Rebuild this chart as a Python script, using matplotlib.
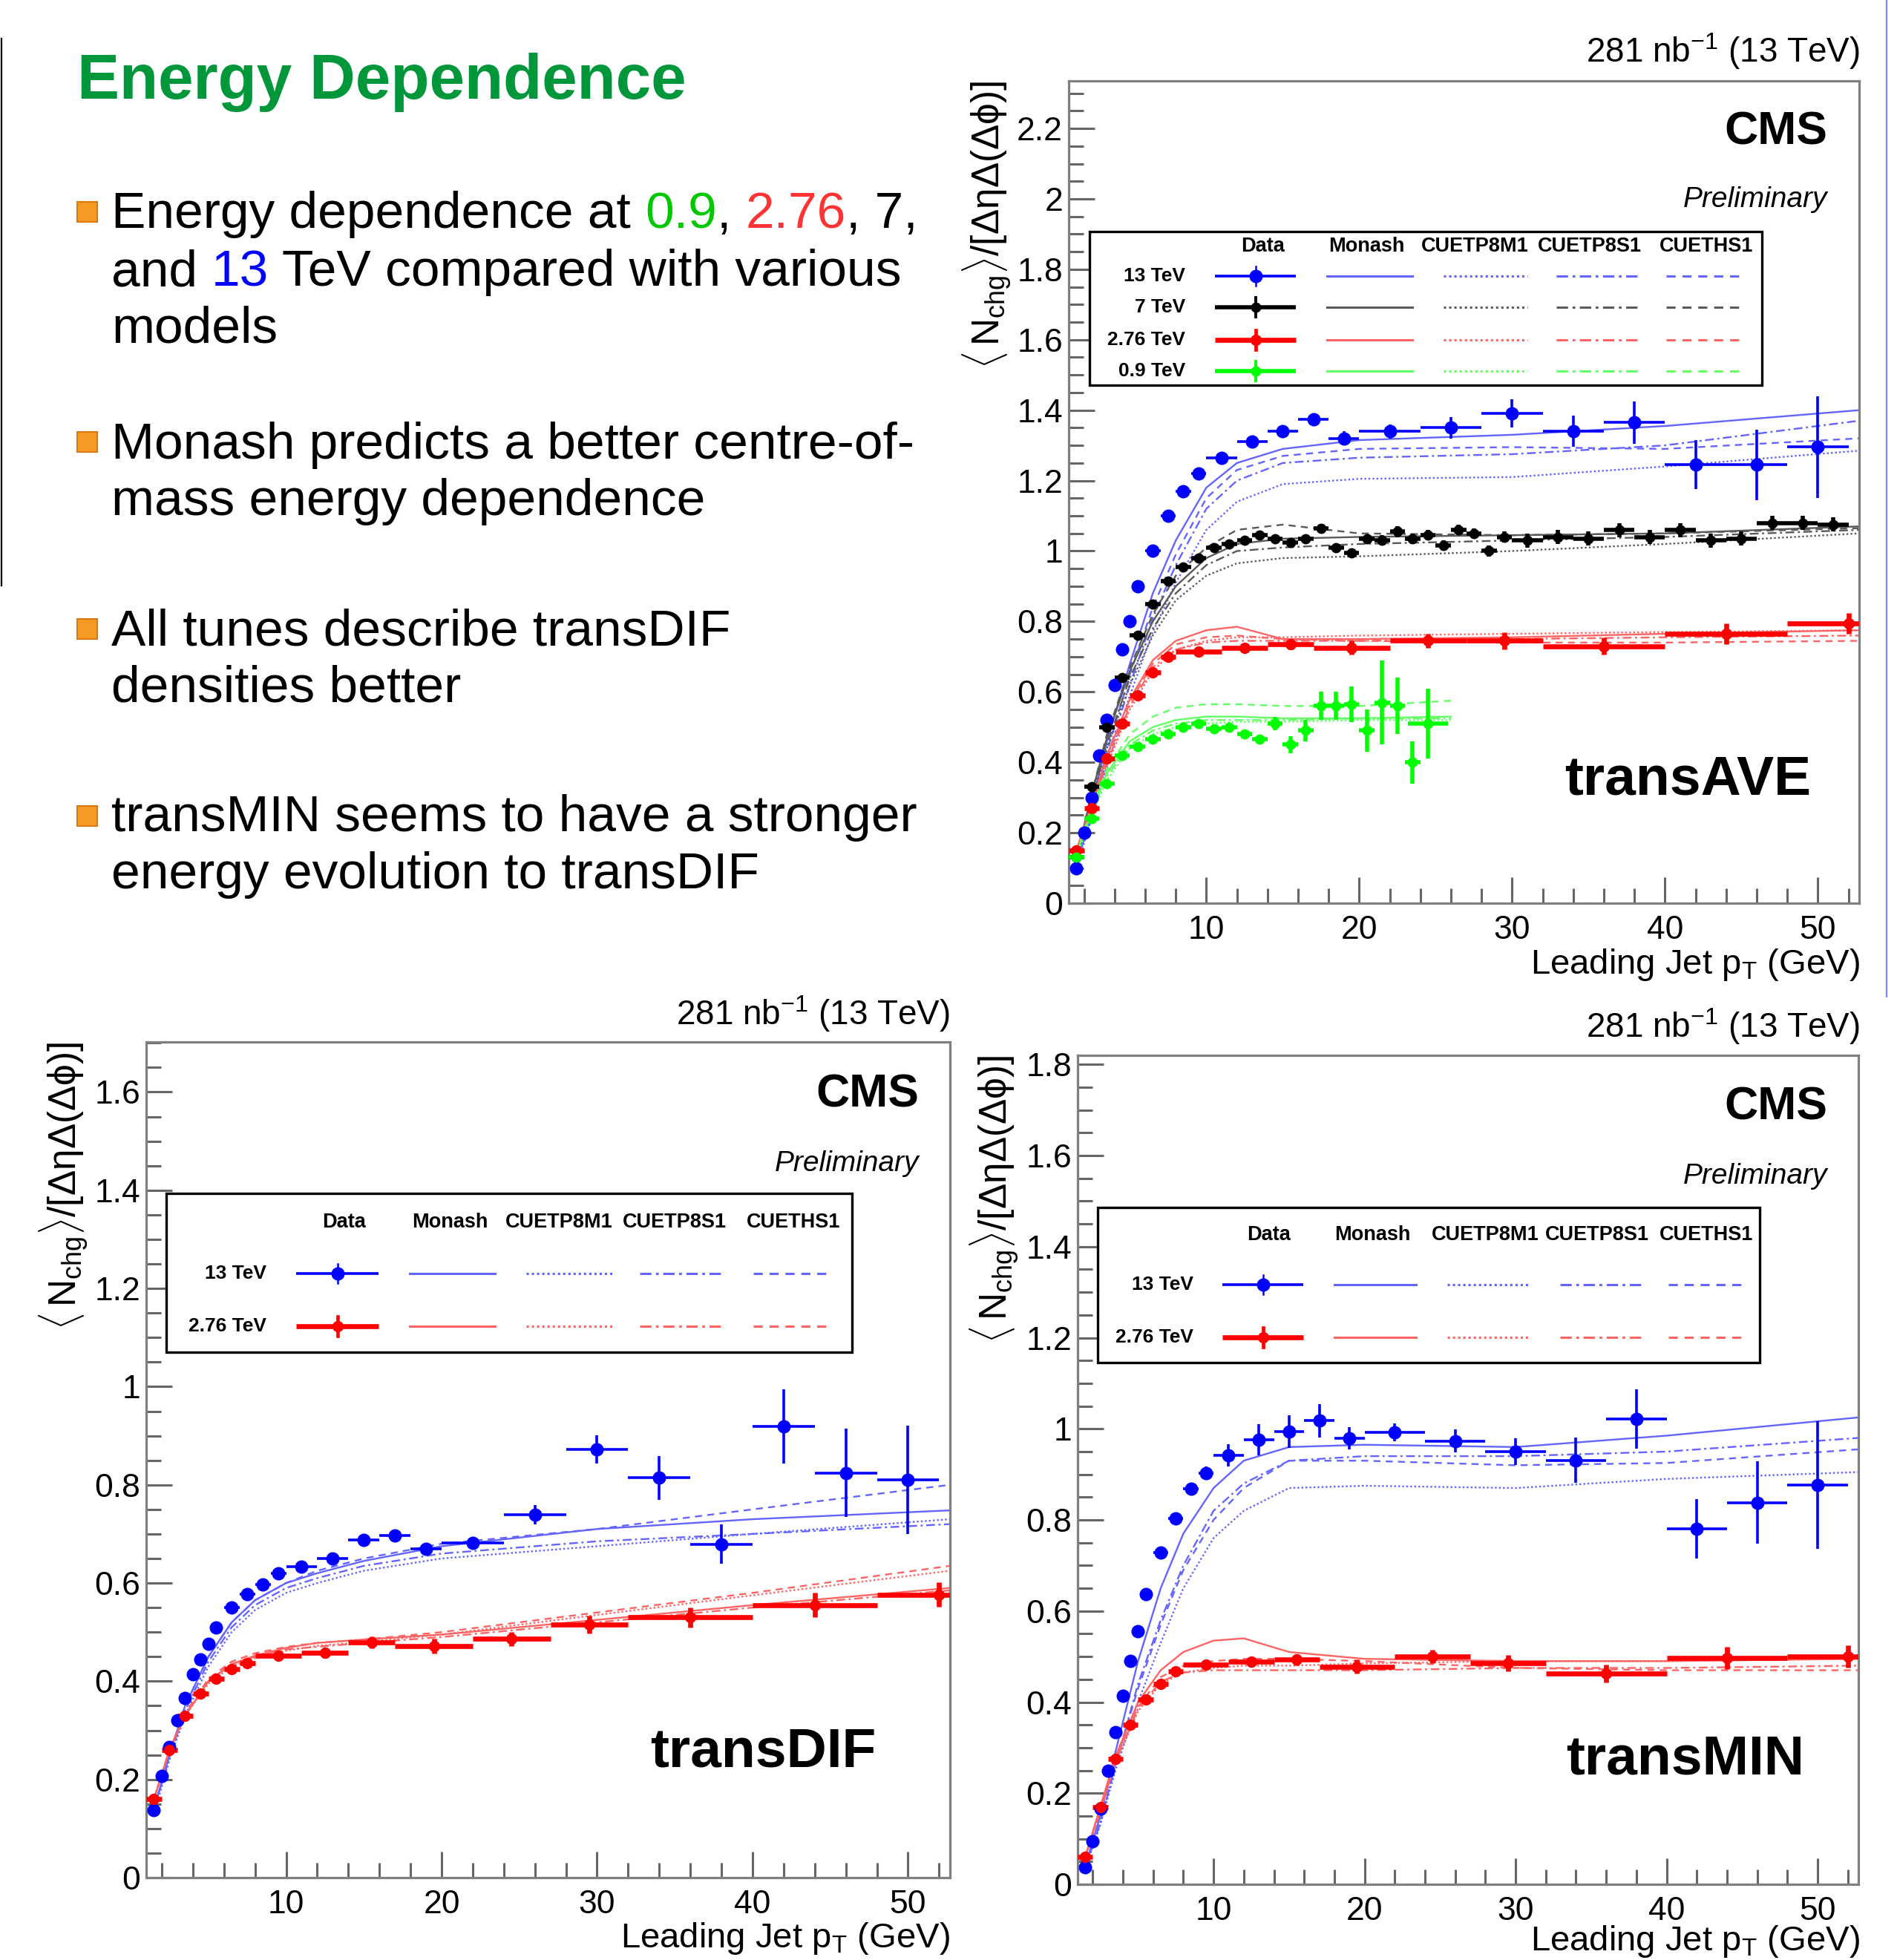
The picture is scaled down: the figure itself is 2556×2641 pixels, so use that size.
import matplotlib
matplotlib.use('Agg')
import matplotlib.pyplot as plt
from matplotlib.patches import Rectangle
from matplotlib.ticker import MultipleLocator, FuncFormatter

W, H = 2556, 2641

# ROOT plots use a helvetica-like font, the slide text Liberation Sans
ROOT_FONT = 'Liberation Sans'
SLIDE_FONT = 'Liberation Sans'
plt.rcParams['font.family'] = [ROOT_FONT, 'DejaVu Sans']
plt.rcParams['mathtext.fontset'] = 'custom'
plt.rcParams['mathtext.rm'] = ROOT_FONT
plt.rcParams['mathtext.it'] = ROOT_FONT + ':italic'
plt.rcParams['mathtext.bf'] = ROOT_FONT + ':bold'

# ---------------- data ----------------
tunes = ['Monash', 'CUETP8M1', 'CUETP8S1', 'CUETHS1']

# 13 TeV data bins
pt13 = [1.5, 2.0, 2.5, 3.0, 3.5, 4.0, 4.5, 5.0, 5.5, 6.5, 7.5, 8.5, 9.5,
        11, 13, 15, 17, 19, 22, 26, 30, 34, 38, 42, 46, 50]
pt13_err = [0.25, 0.25, 0.25, 0.25, 0.25, 0.25, 0.25, 0.25, 0.25, 0.5, 0.5, 0.5, 0.5,
            1, 1, 1, 1, 1, 2, 2, 2, 2, 2, 2, 2, 2]
# 7 TeV data bins
pt7 = [1.5, 2.5, 3.5, 4.5, 5.5, 6.5, 7.5, 8.5, 9.5, 10.5, 11.5, 12.5, 13.5, 14.5,
       15.5, 16.5, 17.5, 18.5, 19.5, 20.5, 21.5, 22.5, 23.5, 24.5, 25.5, 26.5, 27.5,
       28.5, 29.5, 31, 33, 35, 37, 39, 41, 43, 45, 47, 49, 51]
pt7_err = [0.5, 0.5, 0.5, 0.5, 0.5, 0.5, 0.5, 0.5, 0.5, 0.5, 0.5, 0.5, 0.5, 0.5,
           0.5, 0.5, 0.5, 0.5, 0.5, 0.5, 0.5, 0.5, 0.5, 0.5, 0.5, 0.5, 0.5,
           0.5, 0.5, 1, 1, 1, 1, 1, 1, 1, 1, 1, 1, 1]
# 2.76 TeV data bins
pt276 = [1.5, 2.5, 3.5, 4.5, 5.5, 6.5, 7.5, 9.5, 12.5, 15.5, 19.5, 24.5, 29.5, 36, 44, 52]
pt276_err = [0.5, 0.5, 0.5, 0.5, 0.5, 0.5, 0.5, 1.5, 1.5, 1.5, 2.5, 2.5, 2.5, 4, 4, 4]
# 0.9 TeV data bins
pt09 = [1.5, 2.5, 3.5, 4.5, 5.5, 6.5, 7.5, 8.5, 9.5, 10.5, 11.5, 12.5, 13.5, 14.5,
        15.5, 16.5, 17.5, 18.5, 19.5, 20.5, 21.5, 22.5, 23.5, 24.5]
pt09_err = [0.5, 0.5, 0.5, 0.5, 0.5, 0.5, 0.5, 0.5, 0.5, 0.5, 0.5, 0.5, 0.5, 0.5,
            0.5, 0.5, 0.5, 0.5, 0.5, 0.5, 0.5, 0.5, 0.5, 1.3]

# MC curve sampling points
mc_pt = [1.5, 2.5, 3.5, 5, 6.5, 8, 10, 12, 15, 20, 30, 40, 52.7]
mc_pt09 = [1.5, 2.5, 3.5, 5, 6.5, 8, 10, 12, 15, 20, 26]

# ---- transAVE ----
ave13 = [0.10, 0.20, 0.30, 0.42, 0.52, 0.62, 0.72, 0.80, 0.90, 1.00, 1.10, 1.17, 1.22,
         1.265, 1.31, 1.34, 1.375, 1.32, 1.34, 1.35, 1.39, 1.34, 1.365, 1.245, 1.245, 1.295]
ave13_err = [0.005, 0.005, 0.005, 0.005, 0.005, 0.005, 0.005, 0.005, 0.005, 0.005, 0.005, 0.005, 0.005,
             0.01, 0.01, 0.012, 0.015, 0.02, 0.02, 0.03, 0.04, 0.045, 0.06, 0.07, 0.1, 0.145]
ave7 = [0.13, 0.33, 0.50, 0.64, 0.76, 0.85, 0.915, 0.955, 0.98, 1.01, 1.02, 1.03, 1.045, 1.035,
        1.025, 1.035, 1.065, 1.01, 0.995, 1.035, 1.03, 1.055, 1.035, 1.045, 1.015, 1.06, 1.05,
        1.0, 1.04, 1.03, 1.04, 1.035, 1.06, 1.04, 1.06, 1.03, 1.035, 1.08, 1.08, 1.075]
ave7_err = [0.005, 0.005, 0.005, 0.005, 0.005, 0.005, 0.005, 0.005, 0.005, 0.005, 0.01, 0.01, 0.01, 0.01,
            0.01, 0.01, 0.01, 0.01, 0.01, 0.01, 0.015, 0.015, 0.015, 0.015, 0.015, 0.015, 0.015,
            0.015, 0.015, 0.02, 0.02, 0.02, 0.02, 0.02, 0.02, 0.02, 0.02, 0.02, 0.02, 0.02]
ave276 = [0.15, 0.27, 0.41, 0.51, 0.59, 0.655, 0.70, 0.715, 0.725, 0.735, 0.725, 0.745,
          0.745, 0.73, 0.765, 0.795]
ave276_err = [0.006, 0.006, 0.006, 0.006, 0.006, 0.006, 0.006, 0.01, 0.012, 0.015, 0.02, 0.02,
              0.025, 0.025, 0.03, 0.03]
ave09 = [0.13, 0.24, 0.34, 0.42, 0.445, 0.465, 0.48, 0.50, 0.51, 0.495, 0.50, 0.48, 0.465, 0.51,
         0.45, 0.49, 0.56, 0.56, 0.565, 0.49, 0.57, 0.56, 0.40, 0.51]
ave09_err = [0.005, 0.005, 0.005, 0.005, 0.005, 0.005, 0.005, 0.005, 0.005, 0.01, 0.01, 0.01, 0.01, 0.02,
             0.025, 0.03, 0.04, 0.04, 0.05, 0.06, 0.12, 0.08, 0.06, 0.10]

ave13_mc = [
    [0.12, 0.28, 0.46, 0.68, 0.88, 1.03, 1.18, 1.25, 1.29, 1.315, 1.33, 1.355, 1.40],
    [0.10, 0.24, 0.39, 0.59, 0.77, 0.91, 1.06, 1.14, 1.19, 1.205, 1.21, 1.24, 1.285],
    [0.11, 0.25, 0.41, 0.62, 0.81, 0.96, 1.12, 1.20, 1.25, 1.265, 1.275, 1.30, 1.37],
    [0.11, 0.26, 0.43, 0.65, 0.84, 0.99, 1.15, 1.23, 1.27, 1.29, 1.295, 1.29, 1.32],
]
ave7_mc = [
    [0.13, 0.31, 0.47, 0.66, 0.80, 0.90, 0.98, 1.02, 1.035, 1.04, 1.045, 1.05, 1.07],
    [0.12, 0.29, 0.44, 0.62, 0.76, 0.86, 0.93, 0.965, 0.98, 0.985, 1.0, 1.02, 1.05],
    [0.12, 0.30, 0.45, 0.64, 0.78, 0.88, 0.96, 1.0, 1.01, 1.02, 1.03, 1.04, 1.06],
    [0.13, 0.31, 0.48, 0.67, 0.82, 0.93, 1.01, 1.06, 1.075, 1.05, 1.045, 1.05, 1.065],
]
ave276_mc = [
    [0.15, 0.28, 0.42, 0.58, 0.69, 0.745, 0.775, 0.785, 0.75, 0.75, 0.755, 0.765, 0.775],
    [0.14, 0.26, 0.39, 0.55, 0.66, 0.72, 0.745, 0.755, 0.755, 0.76, 0.765, 0.77, 0.775],
    [0.14, 0.27, 0.40, 0.56, 0.67, 0.72, 0.74, 0.745, 0.745, 0.745, 0.75, 0.755, 0.76],
    [0.15, 0.28, 0.41, 0.57, 0.68, 0.735, 0.755, 0.76, 0.75, 0.745, 0.74, 0.74, 0.745],
]
ave09_mc = [
    [0.14, 0.26, 0.37, 0.46, 0.50, 0.52, 0.53, 0.53, 0.525, 0.525, 0.53],
    [0.13, 0.25, 0.35, 0.44, 0.48, 0.50, 0.51, 0.515, 0.515, 0.52, 0.52],
    [0.14, 0.26, 0.36, 0.45, 0.49, 0.51, 0.52, 0.52, 0.52, 0.525, 0.525],
    [0.14, 0.27, 0.38, 0.48, 0.53, 0.555, 0.565, 0.565, 0.56, 0.56, 0.575],
]

# ---- transDIF ----
dif13 = [0.138, 0.207, 0.266, 0.32, 0.366, 0.414, 0.445, 0.476, 0.509, 0.55, 0.578, 0.597, 0.62,
         0.634, 0.65, 0.688, 0.697, 0.669, 0.681, 0.739, 0.872, 0.814, 0.679, 0.919, 0.824, 0.81]
dif13_err = [0.005, 0.005, 0.005, 0.005, 0.005, 0.005, 0.005, 0.005, 0.005, 0.005, 0.005, 0.005, 0.005,
             0.008, 0.01, 0.012, 0.012, 0.012, 0.012, 0.02, 0.029, 0.045, 0.04, 0.075, 0.09, 0.11]
dif276 = [0.16, 0.26, 0.33, 0.375, 0.405, 0.425, 0.437, 0.452, 0.458, 0.479, 0.472, 0.486,
          0.515, 0.53, 0.555, 0.576]
dif276_err = [0.005, 0.005, 0.005, 0.005, 0.005, 0.005, 0.005, 0.008, 0.01, 0.012, 0.015, 0.015,
              0.018, 0.02, 0.025, 0.025]
dif13_mc = [
    [0.14, 0.25, 0.35, 0.45, 0.52, 0.565, 0.60, 0.62, 0.645, 0.675, 0.71, 0.73, 0.748],
    [0.13, 0.24, 0.33, 0.43, 0.50, 0.545, 0.58, 0.60, 0.625, 0.65, 0.675, 0.70, 0.73],
    [0.14, 0.245, 0.34, 0.44, 0.51, 0.555, 0.59, 0.61, 0.635, 0.66, 0.685, 0.70, 0.72],
    [0.14, 0.25, 0.35, 0.45, 0.52, 0.565, 0.60, 0.625, 0.65, 0.68, 0.71, 0.75, 0.80],
]
dif276_mc = [
    [0.16, 0.26, 0.33, 0.40, 0.435, 0.452, 0.468, 0.478, 0.485, 0.495, 0.525, 0.555, 0.59],
    [0.16, 0.26, 0.33, 0.395, 0.43, 0.447, 0.462, 0.472, 0.48, 0.495, 0.535, 0.575, 0.625],
    [0.16, 0.26, 0.33, 0.40, 0.435, 0.45, 0.465, 0.47, 0.478, 0.49, 0.52, 0.55, 0.585],
    [0.16, 0.26, 0.335, 0.405, 0.44, 0.457, 0.47, 0.478, 0.485, 0.50, 0.54, 0.58, 0.635],
]

# ---- transMIN ----
min13 = [0.038, 0.095, 0.167, 0.25, 0.334, 0.414, 0.49, 0.556, 0.637, 0.728, 0.803, 0.869, 0.903,
         0.942, 0.976, 0.994, 1.018, 0.979, 0.992, 0.973, 0.95, 0.931, 1.022, 0.781, 0.838, 0.876]
min13_err = [0.005, 0.005, 0.005, 0.005, 0.005, 0.005, 0.005, 0.005, 0.005, 0.005, 0.005, 0.005, 0.015,
             0.025, 0.035, 0.036, 0.037, 0.025, 0.02, 0.025, 0.03, 0.05, 0.065, 0.065, 0.09, 0.14]
min276 = [0.06, 0.17, 0.275, 0.35, 0.405, 0.44, 0.468, 0.482, 0.488, 0.493, 0.478, 0.50,
          0.486, 0.463, 0.497, 0.50]
min276_err = [0.005, 0.005, 0.005, 0.005, 0.005, 0.005, 0.005, 0.008, 0.01, 0.012, 0.015, 0.015,
              0.018, 0.02, 0.025, 0.025]
min13_mc = [
    [0.04, 0.15, 0.29, 0.49, 0.65, 0.77, 0.87, 0.93, 0.96, 0.965, 0.96, 0.985, 1.025],
    [0.035, 0.13, 0.25, 0.40, 0.53, 0.65, 0.76, 0.82, 0.87, 0.875, 0.87, 0.89, 0.905],
    [0.035, 0.135, 0.26, 0.44, 0.58, 0.70, 0.82, 0.88, 0.93, 0.94, 0.94, 0.95, 0.98],
    [0.04, 0.14, 0.265, 0.43, 0.57, 0.69, 0.80, 0.87, 0.93, 0.93, 0.92, 0.925, 0.955],
]
min276_mc = [
    [0.06, 0.17, 0.28, 0.40, 0.47, 0.51, 0.535, 0.54, 0.51, 0.495, 0.49, 0.49, 0.495],
    [0.06, 0.16, 0.265, 0.38, 0.44, 0.465, 0.475, 0.48, 0.48, 0.485, 0.49, 0.49, 0.495],
    [0.06, 0.16, 0.27, 0.385, 0.445, 0.465, 0.47, 0.47, 0.47, 0.47, 0.475, 0.475, 0.48],
    [0.06, 0.165, 0.275, 0.39, 0.455, 0.48, 0.49, 0.495, 0.495, 0.49, 0.475, 0.47, 0.47],
]

# ---------------- style ----------------
BLUE, BLACK, RED, GREEN = '#0000ff', '#000000', '#ff0000', '#00ff00'
MC_COL = {BLUE: '#6464ff', BLACK: '#5a5a5a', RED: '#ff6464', GREEN: '#64ff64'}
MC_LS = ['-', (0, (1, 1.3)), (0, (5, 2, 1.2, 2)), (0, (4, 3))]
# data style: marker size, line width, cap size
DSTYLE = {BLUE: (13, 2.6, 5), BLACK: (10, 4.0, 3), RED: (11, 4.8, 4), GREEN: (10, 4.0, 4)}
FRAME = '#7f7f7f'


def P(v):
    # pixel length -> points (dpi 100)
    return v * 0.72


fig = plt.figure(figsize=(W / 100, H / 100), dpi=100)
fig.patch.set_facecolor('white')


def make_axes(x0, y0, x1, y1, ymax):
    ax = fig.add_axes([x0 / W, 1 - y1 / H, (x1 - x0) / W, (y1 - y0) / H])
    ax.set_xlim(1.0, 52.7)
    ax.set_ylim(0, ymax)
    ax.xaxis.set_major_locator(MultipleLocator(10))
    ax.xaxis.set_minor_locator(MultipleLocator(2))
    ax.yaxis.set_major_locator(MultipleLocator(0.2))
    ax.yaxis.set_minor_locator(MultipleLocator(0.05))
    ax.yaxis.set_major_formatter(FuncFormatter(lambda v, p: f'{v:g}'))
    ax.tick_params(which='both', direction='in', top=False, right=False,
                   color='#666666', width=2.2, labelsize=32)
    ax.tick_params(which='major', length=P(35))
    ax.tick_params(which='minor', length=P(20))
    ax.tick_params(axis='x', pad=P(16))
    ax.tick_params(axis='y', pad=P(8))
    for s in ax.spines.values():
        s.set_color(FRAME)
        s.set_linewidth(2.3)
    return ax


def draw_data(ax, x, y, xe, ye, color):
    ms, lw, cs = DSTYLE[color]
    ax.errorbar(x, y, xerr=xe, yerr=ye, fmt='o', color=color, ms=ms, mew=0,
                elinewidth=lw, capsize=cs, capthick=lw * 0.8, zorder=3)


def draw_mc(ax, x, curves, color):
    for vals, ls in zip(curves, MC_LS):
        ax.plot(x, vals, color=MC_COL[color], lw=1.7, ls=ls, zorder=2)


# top-right: transAVE
ax1 = make_axes(1440, 109, 2505, 1217, 2.335)
draw_mc(ax1, mc_pt, ave13_mc, BLUE)
draw_mc(ax1, mc_pt, ave7_mc, BLACK)
draw_mc(ax1, mc_pt, ave276_mc, RED)
draw_mc(ax1, mc_pt09, ave09_mc, GREEN)
draw_data(ax1, pt13, ave13, pt13_err, ave13_err, BLUE)
draw_data(ax1, pt7, ave7, pt7_err, ave7_err, BLACK)
draw_data(ax1, pt276, ave276, pt276_err, ave276_err, RED)
draw_data(ax1, pt09, ave09, pt09_err, ave09_err, GREEN)

# bottom-left: transDIF
ax2 = make_axes(197, 1404, 1280, 2530, 1.702)
draw_mc(ax2, mc_pt, dif13_mc, BLUE)
draw_mc(ax2, mc_pt, dif276_mc, RED)
draw_data(ax2, pt13, dif13, pt13_err, dif13_err, BLUE)
draw_data(ax2, pt276, dif276, pt276_err, dif276_err, RED)

# bottom-right: transMIN
ax3 = make_axes(1452, 1422, 2504, 2539, 1.82)
draw_mc(ax3, mc_pt, min13_mc, BLUE)
draw_mc(ax3, mc_pt, min276_mc, RED)
draw_data(ax3, pt13, min13, pt13_err, min13_err, BLUE)
draw_data(ax3, pt276, min276, pt276_err, min276_err, RED)

# overlay in pixel coordinates for all texts and legends
ov = fig.add_axes([0, 0, 1, 1], zorder=10)
ov.set_xlim(0, W)
ov.set_ylim(H, 0)
ov.axis('off')

YLAB = r'$\langle\,\mathrm{N}_{\mathrm{chg}}\rangle/[\Delta\mathrm{\eta}\Delta(\Delta\mathrm{\phi})]$'
XLAB = r'Leading Jet p$_{\mathrm{T}}$ (GeV)'
LUMI = r'281 nb$^{\mathrm{-1}}$ (13 TeV)'


def panel_texts(right, lumi_y, cms_x, cms_y, prel_y, name, name_x, name_y, xlab_y, ylab_x, ylab_y):
    ov.text(right, lumi_y, LUMI, ha='right', va='baseline', fontsize=33)
    ov.text(cms_x, cms_y, 'CMS', ha='right', va='center', fontsize=45, fontweight='bold')
    ov.text(cms_x, prel_y, 'Preliminary', ha='right', va='center', fontsize=28, style='italic')
    ov.text(name_x, name_y, name, ha='left', va='center', fontsize=54, fontweight='bold')
    ov.text(right, xlab_y, XLAB, ha='right', va='baseline', fontsize=34)
    ov.text(ylab_x, ylab_y, YLAB, ha='center', va='top', rotation=90, fontsize=37)


panel_texts(2506, 84, 2462, 178, 269, 'transAVE', 2108, 1051, 1312, 1330, 109)
panel_texts(1280, 1381, 1238, 1475, 1568, 'transDIF', 876, 2361, 2624, 86, 1404)
panel_texts(2506, 1398, 2462, 1492, 1585, 'transMIN', 2110, 2371, 2628, 1340, 1422)


def legend(box, head_y, head_x, rows, row_y, label_x, cols):
    x0, y0, x1, y1 = box
    ov.add_patch(Rectangle((x0, y0), x1 - x0, y1 - y0, fc='white', ec='black', lw=2.4, zorder=1))
    for name, hx in zip(['Data'] + tunes, head_x):
        ov.text(hx, head_y, name, ha='center', va='center', fontsize=19.5, fontweight='bold', zorder=3)
    for (label, color), ry in zip(rows, row_y):
        ov.text(label_x, ry, label, ha='right', va='center', fontsize=19, fontweight='bold', zorder=3)
        ms, lw, cs = DSTYLE[color]
        dx0, dx1 = cols[0]
        ov.plot([dx0, dx1], [ry, ry], color=color, lw=lw, zorder=3, solid_capstyle='butt')
        ov.plot([(dx0 + dx1) / 2] * 2, [ry - 13, ry + 13], color=color, lw=lw * 0.7, zorder=3)
        ov.plot([(dx0 + dx1) / 2], [ry], 'o', color=color, ms=ms, mew=0, zorder=4)
        for (cx0, cx1), ls in zip(cols[1:], MC_LS):
            ov.plot([cx0, cx1], [ry, ry], color=MC_COL[color], lw=2.2, ls=ls, zorder=3)


legend((1468, 312, 2374, 519), 332, [1701, 1841, 1987, 2142, 2299],
       [('13 TeV', BLUE), ('7 TeV', BLACK), ('2.76 TeV', RED), ('0.9 TeV', GREEN)],
       [372, 414, 458, 500], 1597,
       [(1637, 1746), (1788, 1903), (1945, 2058), (2097, 2209), (2245, 2349)])
legend((224, 1608, 1148, 1822), 1647, [463, 606, 753, 909, 1069],
       [('13 TeV', BLUE), ('2.76 TeV', RED)], [1716, 1787], 359,
       [(399, 510), (552, 667), (709, 825), (862, 977), (1015, 1120)])
legend((1479, 1627, 2371, 1836), 1664, [1709, 1849, 2001, 2152, 2299],
       [('13 TeV', BLUE), ('2.76 TeV', RED)], [1731, 1802], 1608,
       [(1647, 1756), (1798, 1908), (1950, 2060), (2102, 2211), (2248, 2346)])

# ---------------- slide text ----------------
renderer = fig.canvas.get_renderer()
TXT = 50


def text_width(s):
    t = ov.text(0, 0, s + '|', fontsize=TXT, family=SLIDE_FONT)
    w = t.get_window_extent(renderer).width
    t.set_text('|')
    w -= t.get_window_extent(renderer).width
    t.remove()
    return w


def rich_line(x, y, parts):
    prefix = ''
    for s, c in parts:
        dx = text_width(prefix) if prefix else 0
        ov.text(x + dx, y, s, color=c, fontsize=TXT, family=SLIDE_FONT, ha='left', va='baseline')
        prefix += s


ov.text(104, 133, 'Energy Dependence', fontsize=61.5, fontweight='bold', color='#00973a',
        family=SLIDE_FONT, ha='left', va='baseline')

K = 'black'
bullets = [
    (285, [(307, [('Energy dependence at ', K), ('0.9', '#00c800'), (', ', K), ('2.76', '#ff3333'), (', 7,', K)]),
           (385, [('and ', K), ('13', '#0000ff'), (' TeV compared with various', K)]),
           (462, [('models', K)])]),
    (595, [(618, [('Monash predicts a better centre-of-', K)]),
           (694, [('mass energy dependence', K)])]),
    (847, [(869, [('All tunes describe transDIF', K)]),
           (946, [('densities better', K)])]),
    (1099, [(1120, [('transMIN seems to have a stronger', K)]),
            (1197, [('energy evolution to transDIF', K)])]),
]
for by, lines in bullets:
    ov.add_patch(Rectangle((104, by - 13), 27, 27, fc='#f59a23', ec='#dd7711', lw=1.5))
    for ly, parts in lines:
        rich_line(150, ly, parts)

# slide decorations
ov.plot([2, 2], [52, 789], color='black', lw=1.6)
ov.plot([2542, 2542], [0, 1343], color='#7f7fff', lw=1.6)

fig.savefig('out.png', dpi=100)
